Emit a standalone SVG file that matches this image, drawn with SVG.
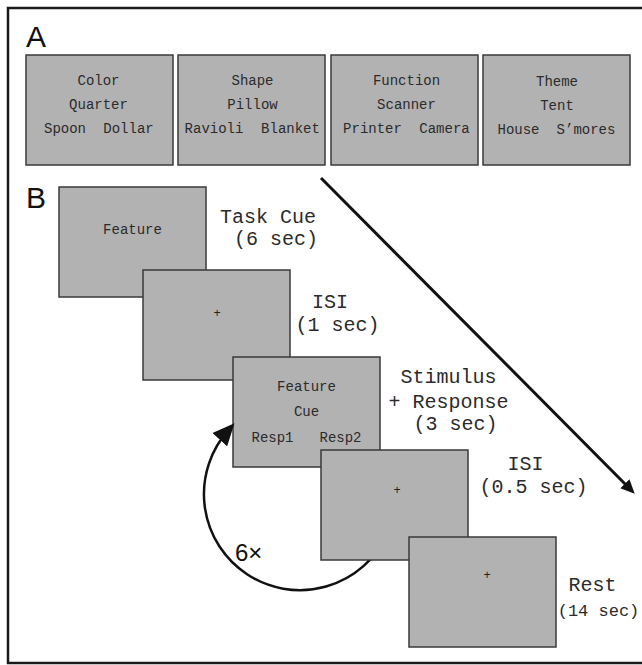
<svg xmlns="http://www.w3.org/2000/svg" width="642" height="665" viewBox="0 0 642 665">
<style>
.box{fill:#b2b2b2;stroke:#3a3a3a;stroke-width:1.5}
.t{font-family:"Liberation Mono","Courier New",monospace;font-size:14px;fill:#2b2b2b;text-anchor:middle}
.lb{font-family:"Liberation Mono","Courier New",monospace;font-size:20px;fill:#2b2b2b;text-anchor:middle}
.pl{font-family:"Liberation Mono","Courier New",monospace;font-size:12px;fill:#222;text-anchor:middle}
.big{font-family:"Liberation Sans",Arial,sans-serif;font-size:30px;fill:#111}
.conn{fill:none;stroke:#111}
</style>
<defs>
<marker id="headS" markerUnits="userSpaceOnUse" markerWidth="14" markerHeight="13" refX="6" refY="5.5" orient="auto" viewBox="0 0 12 11">
<path d="M0,0 L12,5.5 L0,11 z" fill="#111"/>
</marker>
<marker id="headL" markerUnits="userSpaceOnUse" markerWidth="22" markerHeight="20" refX="12" refY="9" orient="auto" viewBox="0 0 20 18">
<path d="M0,0 L20,9 L0,18 z" fill="#111"/>
</marker>
</defs>
<rect x="8" y="8" width="650" height="655" fill="#fff" stroke="#1a1a1a" stroke-width="2.5"/>
<text class="big" x="26" y="47">A</text>
<text class="big" x="26" y="208">B</text>

<g id="a-color">
<rect class="box" x="26" y="55" width="147" height="110"/>
<text class="t" x="98.5" y="85">Color</text>
<text class="t" x="98.5" y="109">Quarter</text>
<text class="t" x="65" y="133">Spoon</text>
<text class="t" x="128.5" y="133">Dollar</text>
</g>
<g id="a-shape">
<rect class="box" x="178" y="55" width="147" height="110"/>
<text class="t" x="252.5" y="85">Shape</text>
<text class="t" x="252.5" y="109">Pillow</text>
<text class="t" x="214" y="133">Ravioli</text>
<text class="t" x="290.5" y="133">Blanket</text>
</g>
<g id="a-function">
<rect class="box" x="331" y="55" width="147" height="110"/>
<text class="t" x="406.5" y="85">Function</text>
<text class="t" x="406.5" y="109">Scanner</text>
<text class="t" x="372.5" y="133">Printer</text>
<text class="t" x="444.5" y="133">Camera</text>
</g>
<g id="a-theme">
<rect class="box" x="483" y="55" width="147" height="110"/>
<text class="t" x="557" y="86">Theme</text>
<text class="t" x="557" y="110">Tent</text>
<text class="t" x="518.5" y="134">House</text>
<text class="t" x="586" y="134">S’mores</text>
</g>

<g id="b-taskcue">
<rect class="box" x="59" y="187" width="147" height="110"/>
<text class="t" x="132.5" y="234">Feature</text>
<text class="lb" x="268" y="223">Task Cue</text>
<text class="lb" x="276" y="245">(6 sec)</text>
</g>
<g id="b-isi1">
<rect class="box" x="143" y="270" width="147" height="110"/>
<text class="pl" x="217" y="317">+</text>
<text class="lb" x="330" y="308">ISI</text>
<text class="lb" x="337.5" y="331">(1 sec)</text>
</g>
<g id="b-stimulus">
<rect class="box" x="233" y="357" width="147" height="110"/>
<text class="t" x="306.5" y="391">Feature</text>
<text class="t" x="306.5" y="416">Cue</text>
<text class="t" x="272.5" y="442">Resp1</text>
<text class="t" x="340.5" y="442">Resp2</text>
<text class="lb" x="448.5" y="383">Stimulus</text>
<text class="lb" x="448.5" y="408">+ Response</text>
<text class="lb" x="455.5" y="430">(3 sec)</text>
</g>

<g id="connectors">
<path class="conn" stroke-width="3" d="M321,178 L629.8,488.8" marker-end="url(#headS)"/>
<path class="conn" stroke-width="2.5" d="M387,534.6 A96,96 0 1 1 228.6,429.9" marker-end="url(#headL)"/>
<text x="235" y="561" font-family="'Liberation Sans',Arial,sans-serif" font-size="24" fill="#111">6×</text>
</g>

<g id="b-isi2">
<rect class="box" x="321" y="450" width="147" height="110"/>
<text class="pl" x="397" y="494">+</text>
<text class="lb" x="525.5" y="470">ISI</text>
<text class="lb" x="533.5" y="493">(0.5 sec)</text>
</g>
<g id="b-rest">
<rect class="box" x="409" y="537" width="147" height="110"/>
<text class="pl" x="487" y="579">+</text>
<text class="lb" x="592.5" y="591">Rest</text>
<text class="lb" x="598.5" y="616" style="font-size:17px">(14 sec)</text>
</g>
</svg>
